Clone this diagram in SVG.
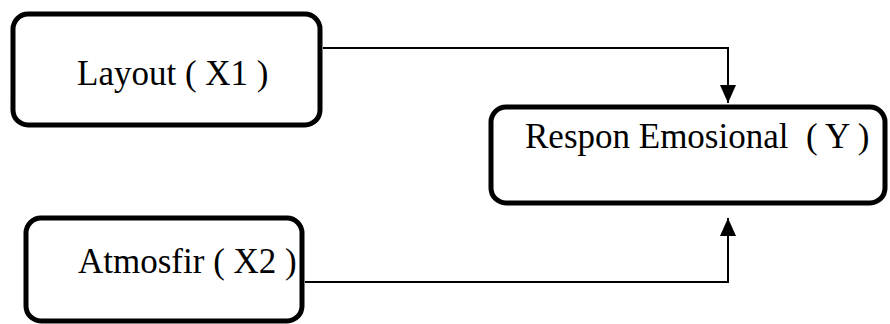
<svg xmlns="http://www.w3.org/2000/svg" width="890" height="324" viewBox="0 0 890 324">
<defs>
<style>
.box{fill:#fff;stroke:#000;stroke-width:5}
.lbl{font-family:"Liberation Serif","Times New Roman",serif;font-size:35px;fill:#000}
.conn{fill:none;stroke:#000;stroke-width:2}
</style>
<marker id="ah" viewBox="0 0 18 16" refX="18" refY="8" markerWidth="18" markerHeight="16" markerUnits="userSpaceOnUse" orient="auto">
<path d="M0,0 L18,8 L0,16 Z" fill="#000"/>
</marker>
</defs>
<rect width="890" height="324" fill="#fff"/>
<g id="connectors">
<path class="conn" d="M323,48 H728 V103" marker-end="url(#ah)"/>
<path class="conn" d="M305,282 H728 V218" marker-end="url(#ah)"/>
</g>
<g id="node-x1">
<rect class="box" x="13" y="14" width="307" height="111" rx="15"/>
<text class="lbl" x="77" y="85">Layout ( X1 )</text>
</g>
<g id="node-y">
<rect class="box" x="491" y="107" width="394" height="96" rx="15"/>
<text class="lbl" x="525" y="148" xml:space="preserve">Respon Emosional  ( Y )</text>
</g>
<g id="node-x2">
<rect class="box" x="26" y="218" width="276" height="103" rx="15"/>
<text class="lbl" x="78" y="273">Atmosfir ( X2 )</text>
</g>
</svg>
